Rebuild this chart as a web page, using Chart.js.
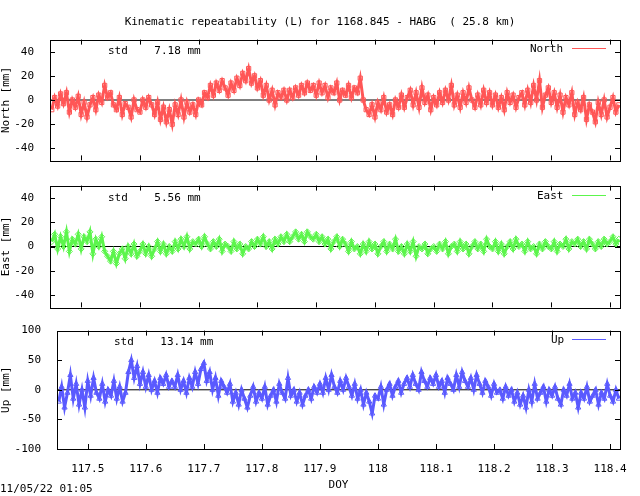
<!DOCTYPE html>
<html><head><meta charset="utf-8">
<script src="https://cdn.jsdelivr.net/npm/chart.js@4"></script>
<style>
body{margin:0;width:640px;height:496px;background:#fff;position:relative;overflow:hidden;font-family:"DejaVu Sans Mono",monospace;font-size:11px;color:#000}
.t{position:absolute;white-space:pre;z-index:2}
.lg{position:absolute;height:0;border-top:1px solid;z-index:2}
canvas{position:absolute;left:0}
</style></head><body>
<div class="t" style="left:0;width:640px;text-align:center;top:15px">Kinematic repeatability (L) for 1168.845 - HABG  ( 25.8 km)</div>
<div class="t" style="left:108px;top:44px">std    7.18 mm</div>
<div class="t" style="left:108px;top:191px">std    5.56 mm</div>
<div class="t" style="left:114px;top:335px">std    13.14 mm</div>
<div class="t" style="left:530px;top:42px">North</div>
<div class="t" style="left:537px;top:189px">East</div>
<div class="t" style="left:551px;top:333px">Up</div>
<div class="t" style="left:0;top:482px">11/05/22 01:05</div>
<canvas id="c1" width="640" height="150" style="top:25px;width:640px;height:150px"></canvas>
<canvas id="c2" width="640" height="151" style="top:171px;width:640px;height:151px"></canvas>
<canvas id="c3" width="640" height="180" style="top:316px;width:640px;height:180px"></canvas>
<script>
const X0 = 117.45, DX = 0.005;
const xTicks = [117.5,117.6,117.7,117.8,117.9,118.0,118.1,118.2,118.3,118.4];
const nTicks = [-40,-20,0,20,40];
const eTicks = [-40,-20,0,20,40];
const uTicks = [-100,-50,0,50,100];
const north = [-8,2,-5,5,-3,6,-10,0,-6,3,
-12,-2,-14,-4,2,-8,4,-2,12,2,
6,-4,-8,2,-12,-3,-6,-14,0,-8,
-10,0,-6,2,-4,-12,-2,-16,-6,-18,
-8,-20,-4,-12,0,-14,-2,-10,-4,-12,
0,-4,6,2,12,4,14,8,16,10,
4,14,8,18,12,22,16,26,14,20,
10,16,4,12,0,8,-4,6,2,8,
0,8,2,10,4,12,6,14,8,12,
4,14,6,12,2,10,6,14,0,8,
4,12,2,10,6,18,0,-8,-12,-4,
-14,-2,-8,2,-10,-4,-12,0,-6,4,
-6,2,8,-4,6,-6,10,-2,4,-8,
2,-4,6,-2,8,0,12,-4,4,-6,
6,-2,10,0,-6,4,-4,8,-2,6,
-4,4,-6,2,-8,6,-2,4,-6,2,
6,-4,8,-2,12,0,16,-6,4,10,
-2,6,-6,4,-10,2,-4,6,-12,-2,
-8,2,-16,-4,-10,-18,-2,-12,0,-14,
-6,2,-10,-4];
const east = [4,10,-2,8,0,12,-4,6,2,10,
-2,8,4,12,-6,6,0,8,-4,-8,
-12,-4,-14,-6,-2,-10,0,-6,2,-8,
-4,2,-6,0,-8,-2,4,-4,2,-6,
0,-4,4,-2,6,0,8,-2,4,2,
6,0,8,2,-2,4,0,6,-4,2,
0,-4,4,-2,2,-6,0,-2,4,0,
6,2,8,0,4,-2,6,2,8,4,
10,4,8,12,6,10,4,12,8,6,
10,4,8,2,6,-2,4,8,0,6,
2,-4,4,-2,0,-6,2,-4,4,-2,
2,-6,0,4,-4,2,-2,6,-4,0,
-6,2,-4,4,-8,0,-2,2,-6,-2,
0,-4,2,-2,4,-6,0,2,-4,4,
-2,2,-6,0,4,-2,2,-4,6,0,
-2,4,-4,2,-6,0,4,-2,6,0,
2,-4,4,-2,0,-6,2,-2,4,0,
-2,4,-4,2,0,6,-2,4,2,6,
0,4,-2,6,2,-2,4,0,6,2,
4,8,2,6];
const up = [-20,5,-30,-5,25,-15,10,-25,0,-30,
15,-10,20,-5,-15,10,-20,0,-10,15,
-15,5,-20,-5,30,50,20,40,10,30,
5,25,0,15,-5,20,10,25,5,15,
5,25,0,15,-5,20,5,30,10,35,
45,15,30,0,20,-10,15,5,-5,10,
-20,-5,-25,0,-15,-30,-10,5,-20,-5,
-15,5,-25,-10,0,-20,10,-5,-15,20,
-10,0,-20,-5,-25,-10,0,-15,5,-5,
10,-5,20,0,25,5,-5,15,0,20,
5,-10,10,-15,0,-25,-5,-20,-40,-10,
-15,5,-25,0,10,-10,5,15,-5,10,
20,5,25,10,0,30,15,5,20,10,
25,5,15,-5,20,10,0,25,5,30,
15,5,20,0,25,10,-5,15,5,-10,
10,-5,0,-15,5,-10,0,-20,-5,-25,
-10,-30,0,-20,10,-15,-5,5,-20,0,
-10,5,-15,-25,0,-10,10,-15,-5,-30,
-5,-15,5,-20,-10,0,-25,-5,-15,10,
-10,-20,0,-15];
const XMIN=117.447, XMAX=118.417;
const pts = a => a.map((v,i)=>({x:+(X0+i*DX).toFixed(3),y:v}));
const frame = {id:'frame',afterDraw(c){const a=c.chartArea,g=c.ctx;g.save();g.strokeStyle='#000';g.lineWidth=1;g.strokeRect(Math.round(a.left)+0.5,Math.round(a.top)+0.5,Math.round(a.right-a.left),Math.round(a.bottom-a.top));
 g.beginPath();const ys=c.scales.y,xs=c.scales.x;
 c.options.plugins.tk.y.forEach(v=>{const p=Math.round(ys.getPixelForValue(v))+0.5;g.moveTo(a.left,p);g.lineTo(a.left+5,p);g.moveTo(a.right,p);g.lineTo(a.right-5,p);});
 xTicks.forEach(v=>{const p=Math.round(xs.getPixelForValue(v))+0.5;g.moveTo(p,a.top);g.lineTo(p,a.top+5);g.moveTo(p,a.bottom);g.lineTo(p,a.bottom-5);});
 g.stroke();g.restore();}};
function mk(id,data,col,style,yt,ymin,ymax,yw,title,bottom){
 new Chart(document.getElementById(id),{type:'scatter',
 data:{datasets:[
  {data:data,showLine:true,borderColor:col,backgroundColor:'rgba(0,0,0,0)',borderWidth:3,pointStyle:style,pointRadius:3,pointBorderColor:col,pointBorderWidth:1,order:1},
  {data:[{x:XMIN,y:0},{x:XMAX,y:0}],showLine:true,borderColor:'#000',borderWidth:1,pointRadius:0,order:2}
 ]},
 options:{animation:false,responsive:false,devicePixelRatio:1,
  layout:{padding:{top:0,bottom:0,right:20,left:0}},
  plugins:{legend:{display:false},tooltip:{enabled:false},tk:{y:yt}},
  scales:{
   x:{type:'linear',min:XMIN,max:XMAX,display:bottom,grid:{display:false},border:{display:false},
     afterBuildTicks:s=>{s.ticks=xTicks.map(v=>({value:v}));},
     afterFit:s=>{s.height=bottom?47:0;},
     ticks:{color:'#000',font:{family:'DejaVu Sans Mono',size:11},padding:6,maxRotation:0,callback:v=>(Math.round(v*10)/10).toString()},
     title:{display:true,text:'DOY',color:'#000',font:{family:'DejaVu Sans Mono',size:11},padding:{top:2}}},
   y:{min:ymin,max:ymax,grid:{display:false},border:{display:false},
     afterBuildTicks:s=>{s.ticks=yt.map(v=>({value:v}));},
     afterFit:s=>{s.width=yw;},
     ticks:{color:'#000',font:{family:'DejaVu Sans Mono',size:11},padding:8},
     title:{display:true,text:title,color:'#000',font:{family:'DejaVu Sans Mono',size:11},padding:{top:0,bottom:4}}}
  }},
 plugins:[frame]});
}
mk('c1',pts(north),'#ff5656','rect',nTicks,-50,50,50,'North [mm]',false);
mk('c2',pts(east),'#5cf54c','rectRot',eTicks,-50,50,50,'East [mm]',false);
mk('c3',pts(up),'#5a5aff','triangle',uTicks,-100,100,57,'Up [mm]',true);
</script>
<div class="lg" style="left:572px;top:48px;width:34px;border-color:#ff5656"></div>
<div class="lg" style="left:572px;top:195px;width:34px;border-color:#5cf54c"></div>
<div class="lg" style="left:572px;top:339px;width:34px;border-color:#5a5aff"></div>
</body></html>
